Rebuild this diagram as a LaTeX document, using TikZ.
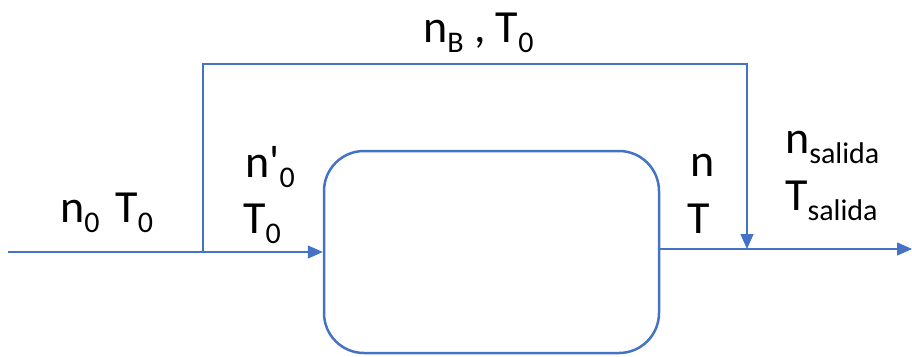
\documentclass[tikz,border=0pt]{standalone}
\usepackage{fontspec}
\setmainfont{Carlito}
\usetikzlibrary{arrows.meta}
\definecolor{flow}{HTML}{4472C4}
% lowered index in a smaller size
\newcommand\lowidx[1]{\raisebox{-10pt}{\fontsize{30}{30}\selectfont #1}}
\begin{document}
\begin{tikzpicture}[x=1pt,y=-1pt,
  flowline/.style={draw=flow,line width=1.3pt},
  tip/.style={-{Triangle[length=15pt,width=13pt]}},
  lbl/.style={inner sep=0pt,anchor=base west,font=\fontsize{46}{46}\selectfont}]
\useasboundingbox (0,0) rectangle (912,356);

% process unit
\node[draw=flow,line width=2.5pt,rounded corners=40pt,minimum width=335pt,
      minimum height=202pt,inner sep=0pt] (reactor) at (491.5,252) {};

% stream points
\coordinate (inlet) at (8,252);
\coordinate (split) at (203,252);
\coordinate (bypassA) at (203,64);
\coordinate (bypassB) at (747,64);
\coordinate (merge) at (747,249);
\coordinate (outlet) at (912,249);

% streams
\draw[flowline] (inlet) -- (split);
\draw[flowline,tip] (split) -- (reactor.west);
\draw[flowline,tip] (split) -- (bypassA) -- (bypassB) -- (merge);
\draw[flowline,tip] (reactor.east |- merge) -- (outlet);

% labels
\node[lbl] (lbypass) at (423,42) {n\lowidx{B} , T\lowidx{0}};
\node[lbl] (lfeed) at (60,222) {n\lowidx{0}\hspace{16pt}T\lowidx{0}};
\node[lbl] (lin1) at (245,177) {n\textquotesingle\lowidx{0}};
\node[lbl] (lin2) at (243,233) {T\lowidx{0}};
\node[lbl] (lout1) at (690,176) {n};
\node[lbl] (lout2) at (687,233) {T};
\node[lbl] (lexit1) at (785,153) {n\lowidx{salida}};
\node[lbl] (lexit2) at (785,210) {T\lowidx{salida}};
\end{tikzpicture}
\end{document}
